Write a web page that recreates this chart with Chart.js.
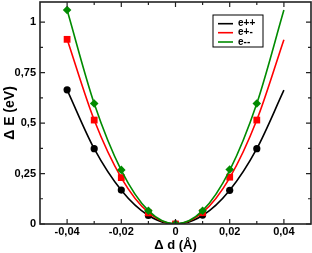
<!DOCTYPE html>
<html>
<head>
<meta charset="utf-8">
<script src="https://cdn.jsdelivr.net/npm/chart.js@4/dist/chart.umd.min.js"></script>
<style>
  html, body { margin: 0; padding: 0; background: #fff; }
  #wrap { width: 312px; height: 253px; position: relative; }
</style>
</head>
<body>
<div id="wrap"><canvas id="chart"></canvas></div>
<script>
// values
const seriesNames = ['e++', 'e+-', 'e--'];
const seriesColors = ['#000000', '#ff0000', '#008b00'];
const markerStyles = ['circle', 'rect', 'rectRot'];
const markerSizes = [3.6, 4.8, 4.3];

const markerX = [-0.04, -0.03, -0.02, -0.01, 0, 0.01, 0.02, 0.03];
const markPP = [0.665, 0.373, 0.168, 0.042, 0, 0.044, 0.167, 0.373];
const markPM = [0.915, 0.515, 0.230, 0.055, 0, 0.056, 0.232, 0.515];
const markMM = [1.060, 0.597, 0.268, 0.066, 0, 0.066, 0.270, 0.597];

// fitted curves, read at each 0.01
const curveX = [-0.04, -0.03, -0.02, -0.01, 0, 0.01, 0.02, 0.03, 0.04];
const curvePP = [0.665, 0.373, 0.167, 0.042, 0, 0.042, 0.167, 0.373, 0.663];
const curvePM = [0.915, 0.515, 0.229, 0.057, 0, 0.057, 0.229, 0.515, 0.913];
const curveMM = [1.060, 0.597, 0.266, 0.066, 0, 0.066, 0.266, 0.597, 1.060];

const xMajorTicks = [-0.04, -0.02, 0, 0.02, 0.04];
const xMinorTicks = [-0.03, -0.01, 0.01, 0.03];
const yMajorTicks = [0, 0.25, 0.5, 0.75, 1];
const yMinorTicks = [0.125, 0.375, 0.625, 0.875];

const marks = [markPP, markPM, markMM];
const curves = [curvePP, curvePM, curveMM];

const fontFam = '"Liberation Sans", Arial, sans-serif';
const comma = v => String(Math.round(v * 1000) / 1000).replace('.', ',');

let datasets = [];
for (let s = 0; s < 3; s++) {
  datasets.push({
    label: seriesNames[s],
    data: curveX.map((x, i) => ({x: x, y: curves[s][i]})),
    borderColor: seriesColors[s],
    borderWidth: 1.6,
    pointRadius: 0,
    fill: false,
    cubicInterpolationMode: 'monotone',
    showLine: true,
    order: 10 - 2 * s
  });
  datasets.push({
    label: seriesNames[s] + ' pts',
    data: markerX.map((x, i) => ({x: x, y: marks[s][i]})),
    backgroundColor: seriesColors[s],
    borderColor: seriesColors[s],
    borderWidth: 0,
    pointStyle: markerStyles[s],
    pointRadius: markerSizes[s],
    showLine: false,
    order: 9 - 2 * s
  });
}

// frame with inward ticks on all four sides + the boxed legend
const framePlugin = {
  id: 'frame',
  afterDraw(chart) {
    const ctx = chart.ctx;
    const a = chart.chartArea;
    const xs = chart.scales.x, ys = chart.scales.y;
    ctx.save();
    ctx.strokeStyle = '#222';
    ctx.lineWidth = 1.6;
    ctx.strokeRect(a.left, a.top, a.right - a.left, a.bottom - a.top);
    ctx.lineWidth = 1.2;
    const tick = (vals, len) => {
      vals.forEach(v => {
        const px = xs.getPixelForValue(v);
        ctx.beginPath();
        ctx.moveTo(px, a.bottom); ctx.lineTo(px, a.bottom - len);
        ctx.moveTo(px, a.top); ctx.lineTo(px, a.top + len);
        ctx.stroke();
      });
    };
    const tickY = (vals, len) => {
      vals.forEach(v => {
        const py = ys.getPixelForValue(v);
        ctx.beginPath();
        ctx.moveTo(a.left, py); ctx.lineTo(a.left + len, py);
        ctx.moveTo(a.right, py); ctx.lineTo(a.right - len, py);
        ctx.stroke();
      });
    };
    tick(xMajorTicks, 5); tick(xMinorTicks, 3);
    tickY(yMajorTicks, 5); tickY(yMinorTicks, 3);

    // legend box
    const bx = a.right - 98, by = a.top + 13;
    ctx.lineWidth = 1;
    ctx.strokeStyle = '#000';
    ctx.strokeRect(bx, by, 50, 32);
    ctx.font = 'bold 10px ' + fontFam;
    ctx.textBaseline = 'middle';
    ctx.textAlign = 'left';
    const rows = [8.7, 17.7, 27];
    for (let s = 0; s < 3; s++) {
      ctx.strokeStyle = seriesColors[s];
      ctx.lineWidth = 1.6;
      ctx.beginPath();
      ctx.moveTo(bx + 5, by + rows[s]);
      ctx.lineTo(bx + 20, by + rows[s]);
      ctx.stroke();
      ctx.fillStyle = '#000';
      ctx.fillText(seriesNames[s], bx + 25, by + rows[s]);
    }
    ctx.restore();
  }
};

new Chart(document.getElementById('chart'), {
  type: 'scatter',
  data: {datasets: datasets},
  options: {
    responsive: true,
    maintainAspectRatio: false,
    animation: false,
    layout: {autoPadding: false, padding: {top: 2, right: 1, left: 0, bottom: 0}},
    plugins: {legend: {display: false}, tooltip: {enabled: false}},
    scales: {
      x: {
        type: 'linear',
        min: -0.05,
        max: 0.05,
        afterBuildTicks: sc => { sc.ticks = xMajorTicks.map(v => ({value: v})); },
        afterFit: sc => { sc.height = 29; sc.paddingLeft = 0; sc.paddingRight = 0; },
        grid: {display: false, drawTicks: false},
        border: {display: false},
        ticks: {
          padding: 1,
          color: '#000',
          font: {family: fontFam, size: 11, weight: 'bold'},
          callback: v => comma(v)
        },
        title: {
          display: true,
          text: 'Δ d (Å)',
          color: '#000',
          padding: {top: 0, bottom: 0},
          font: {family: fontFam, size: 13, weight: 'bold'}
        }
      },
      y: {
        type: 'linear',
        min: 0,
        max: 1.1,
        afterBuildTicks: sc => { sc.ticks = yMajorTicks.map(v => ({value: v})); },
        afterFit: sc => { sc.width = 40; sc.paddingTop = 0; sc.paddingBottom = 0; },
        grid: {display: false, drawTicks: false},
        border: {display: false},
        ticks: {
          padding: 4,
          color: '#000',
          font: {family: fontFam, size: 11, weight: 'bold'},
          callback: v => comma(v)
        },
        title: {
          display: true,
          text: 'Δ E (eV)',
          color: '#000',
          padding: {top: 2, bottom: 0},
          font: {family: fontFam, size: 14, weight: 'bold'}
        }
      }
    }
  },
  plugins: [framePlugin]
});
</script>
</body>
</html>
